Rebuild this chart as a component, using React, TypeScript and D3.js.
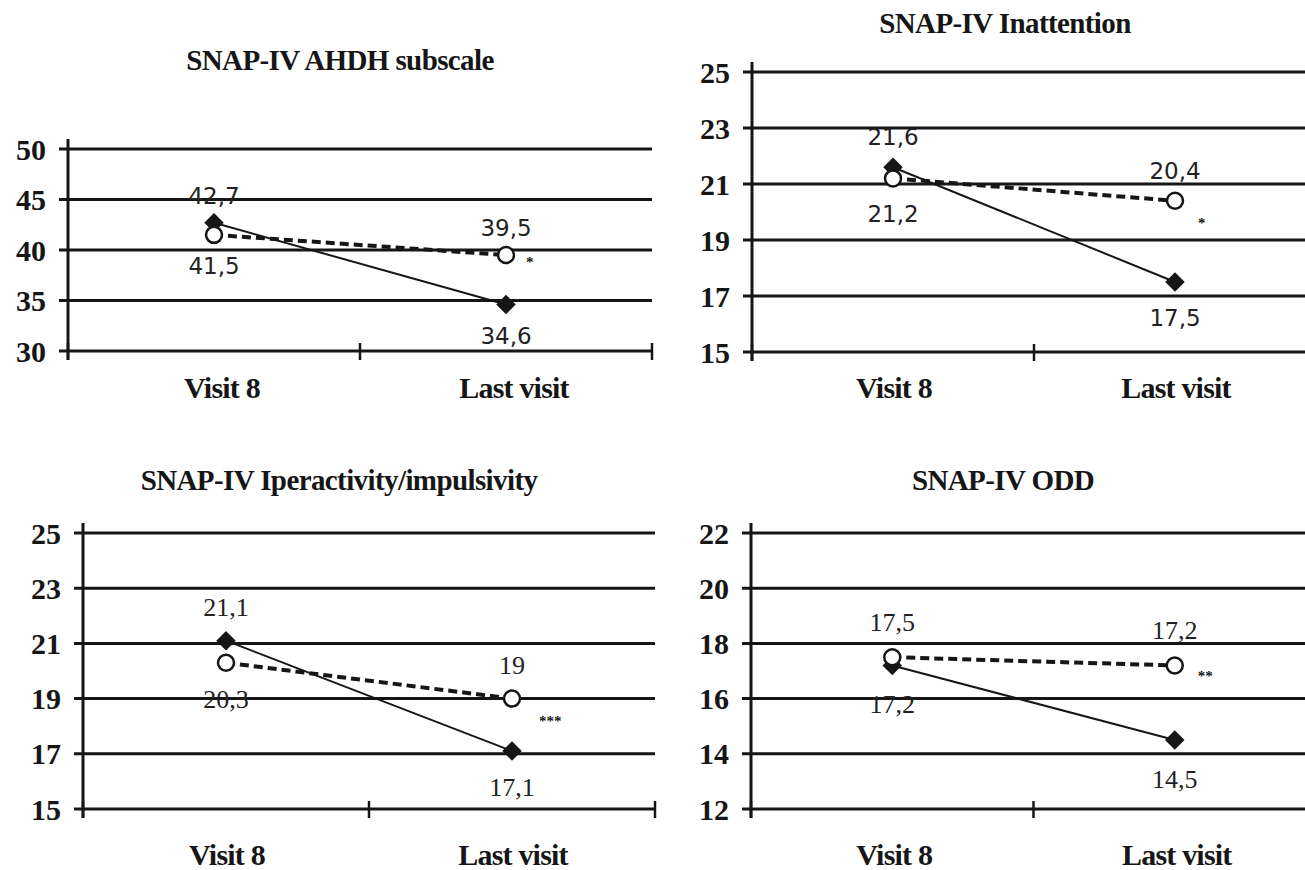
import React from "react"
import * as d3 from "d3"

/** Chart content */
const categories = ["Visit 8", "Last visit"]
const titles = [
	"SNAP-IV AHDH subscale",
	"SNAP-IV Inattention",
	"SNAP-IV Iperactivity/impulsivity",
	"SNAP-IV ODD",
]
/** solid line with filled diamonds */
const solidValues = [
	[42.7, 34.6],
	[21.6, 17.5],
	[21.1, 17.1],
	[17.2, 14.5],
]
/** dashed line with open circles */
const dashedValues = [
	[41.5, 39.5],
	[21.2, 20.4],
	[20.3, 19],
	[17.5, 17.2],
]
const yTickValues = [
	[30, 35, 40, 45, 50],
	[15, 17, 19, 21, 23, 25],
	[15, 17, 19, 21, 23, 25],
	[12, 14, 16, 18, 20, 22],
]
const significance = ["*", "*", "***", "**"]

/** Where each small chart sits on the page */
const panels = [
	{ left: 68, right: 652, top: 149, bottom: 351, titleX: 340, titleY: 70, catY: 398, catShift: 8, valueFont: "DejaVu Sans", valueSize: 23, above: -19, below: 39, sigDx: 20, sigDy: 12 },
	{ left: 752, right: 1316, top: 72, bottom: 352, titleX: 1005, titleY: 33, catY: 398, catShift: 1, valueFont: "DejaVu Sans", valueSize: 23, above: -22, below: 44, sigDx: 23, sigDy: 27 },
	{ left: 83, right: 655, top: 533, bottom: 809, titleX: 339, titleY: 490, catY: 865, catShift: 1, valueFont: "Liberation Serif", valueSize: 26, above: -25, below: 45, sigDx: 27, sigDy: 27 },
	{ left: 751, right: 1316, top: 533, bottom: 809, titleX: 1003, titleY: 490, catY: 865, catShift: 2, valueFont: "Liberation Serif", valueSize: 26, above: -26, below: 48, sigDx: 23, sigDy: 16 },
]

const ink = "#161616"
const serif = "'Liberation Serif', 'Times New Roman', serif"
const fmt = (v: number) => String(v).replace(".", ",")

const diamondPath = d3.symbol().type(d3.symbolSquare).size(190)()

const Panel = ({ i }: { i: number }) => {
	const p = panels[i]
	const ticks = yTickValues[i]

	const xScale = d3.scaleBand<string>().domain(categories).range([p.left, p.right]).padding(0)
	const yScale = d3.scaleLinear().domain(d3.extent(ticks) as [number, number]).range([p.bottom, p.top])
	const cx = (c: string) => (xScale(c) as number) + xScale.bandwidth() / 2

	const lineGen = d3
		.line<number>()
		.x((_, k) => cx(categories[k]))
		.y(d => yScale(d))

	const xTicks = [...categories.map(c => xScale(c) as number), p.right]

	/** at each category the higher series gets its label above, the lower below */
	const labels: { x: number; y: number; text: string }[] = []
	categories.forEach((c, k) => {
		const s = solidValues[i][k]
		const d = dashedValues[i][k]
		const solidAbove = s >= d
		labels.push({ x: cx(c), y: yScale(s) + (solidAbove ? p.above : p.below), text: fmt(s) })
		labels.push({ x: cx(c), y: yScale(d) + (solidAbove ? p.below : p.above), text: fmt(d) })
	})

	const lastCat = categories[categories.length - 1]
	const lastDashed = dashedValues[i][categories.length - 1]

	return (
		<g>
			<text x={p.titleX} y={p.titleY} textAnchor="middle" fontFamily={serif} fontWeight="bold" fontSize={29} fill={ink} letterSpacing={-0.6}>
				{titles[i]}
			</text>

			{/* gridlines and y ticks */}
			{ticks.map(t => (
				<g key={t}>
					<line x1={p.left - 9} x2={p.right} y1={yScale(t)} y2={yScale(t)} stroke={ink} strokeWidth={3} />
					<text x={p.left - 22} y={yScale(t)} dy="0.35em" textAnchor="end" fontFamily={serif} fontWeight="bold" fontSize={30} fill={ink}>
						{t}
					</text>
				</g>
			))}

			{/* y axis line */}
			<line x1={p.left} x2={p.left} y1={p.top - 10} y2={p.bottom + 9} stroke={ink} strokeWidth={3} />

			{/* x ticks */}
			{xTicks.map((x, k) => (
				<line key={k} x1={x} x2={x} y1={p.bottom - 8} y2={p.bottom + 9} stroke={ink} strokeWidth={2.5} />
			))}

			{categories.map(c => (
				<text key={c} x={cx(c) + p.catShift} y={p.catY} textAnchor="middle" fontFamily={serif} fontWeight="bold" fontSize={30} fill={ink} letterSpacing={-0.8}>
					{c}
				</text>
			))}

			{/* series */}
			<path d={lineGen(solidValues[i]) as string} fill="none" stroke={ink} strokeWidth={2} />
			<path d={lineGen(dashedValues[i]) as string} fill="none" stroke={ink} strokeWidth={4} strokeDasharray="9 5" />

			{solidValues[i].map((v, k) => (
				<path key={k} d={diamondPath as string} transform={`translate(${cx(categories[k])},${yScale(v)}) rotate(45)`} fill={ink} />
			))}
			{dashedValues[i].map((v, k) => (
				<circle key={k} cx={cx(categories[k])} cy={yScale(v)} r={8} fill="#fff" stroke={ink} strokeWidth={2.5} />
			))}

			{labels.map((l, k) => (
				<text key={k} x={l.x} y={l.y} textAnchor="middle" fontFamily={p.valueFont} fontSize={p.valueSize} fill="#222">
					{l.text}
				</text>
			))}

			<text x={cx(lastCat) + p.sigDx} y={yScale(lastDashed) + p.sigDy} fontFamily={serif} fontWeight="bold" fontSize={15} fill={ink}>
				{significance[i]}
			</text>
		</g>
	)
}

export default function App() {
	return (
		<svg width={1305} height={870} style={{ position: "absolute", left: 0, top: 0, background: "#fff" }}>
			<rect width={1305} height={870} fill="#fff" />
			{panels.map((_, i) => (
				<Panel key={i} i={i} />
			))}
		</svg>
	)
}
